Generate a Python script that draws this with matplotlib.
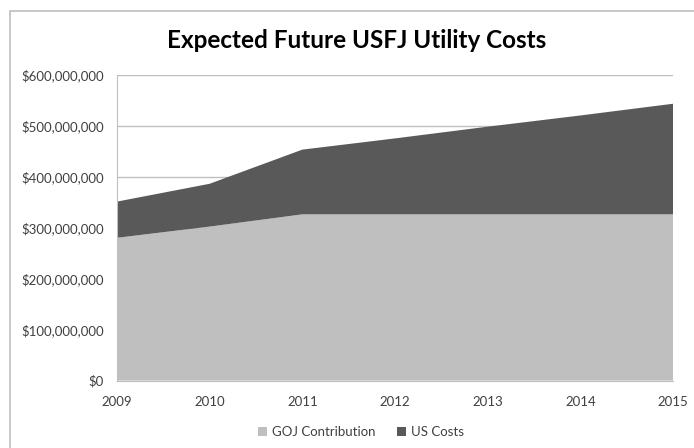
import matplotlib
matplotlib.use("Agg")
import matplotlib.pyplot as plt
from matplotlib.patches import Rectangle
from matplotlib.ticker import FuncFormatter

years = [2009, 2010, 2011, 2012, 2013, 2014, 2015]
goj = [280e6, 302e6, 326e6, 326e6, 326e6, 326e6, 326e6]
us_total = [351e6, 386e6, 453e6, 475e6, 498e6, 520e6, 543e6]
us = [t - g for t, g in zip(us_total, goj)]

plt.rcParams['font.family'] = ['Lato', 'DejaVu Sans']

fig = plt.figure(figsize=(6.94, 4.48), dpi=100)
ax = fig.add_axes([117/694, 1 - 380.5/448, (673 - 117)/694, (380.5 - 74.7)/448])

# outer chart border (right and bottom edges run off the image)
fig.patches.append(Rectangle((10/694, -0.2), 1.2, 1.2 - 11/448, transform=fig.transFigure,
                             fill=False, edgecolor='#bfbfbf', linewidth=1.2))

ax.stackplot(years, goj, us, colors=['#bfbfbf', '#595959'],
             labels=['GOJ Contribution', 'US Costs'], linewidth=0, zorder=2)

ax.set_xlim(2009, 2015)
ax.set_ylim(0, 600e6)
ax.set_xticks(years)
ax.set_yticks(range(0, 600000001, 100000000))
ax.yaxis.set_major_formatter(FuncFormatter(lambda v, p: "${:,.0f}".format(v)))
ax.grid(axis='y', color='#bfbfbf', linewidth=1, zorder=1)
ax.set_axisbelow(True)
for s in ['top', 'right']:
    ax.spines[s].set_visible(False)
ax.spines['left'].set_color('#bfbfbf')
ax.spines['bottom'].set_color('#bfbfbf')
ax.tick_params(length=0, labelsize=9.5, colors='#404040')
ax.tick_params(axis='y', pad=9.5)
ax.tick_params(axis='x', pad=11.5)

fig.text(357/694, 1 - 41/448, "Expected Future USFJ Utility Costs", fontsize=17.5,
         fontweight='bold', ha='center', va='center')

ax.legend(loc='center', bbox_to_anchor=((361 - 117)/556, (380.5 - 432)/305.8), ncol=2,
          frameon=False, fontsize=9.5, handlelength=0.7, handleheight=0.7,
          columnspacing=1.6, handletextpad=0.4, labelcolor='#404040')

fig.savefig("out.png", dpi=100)
